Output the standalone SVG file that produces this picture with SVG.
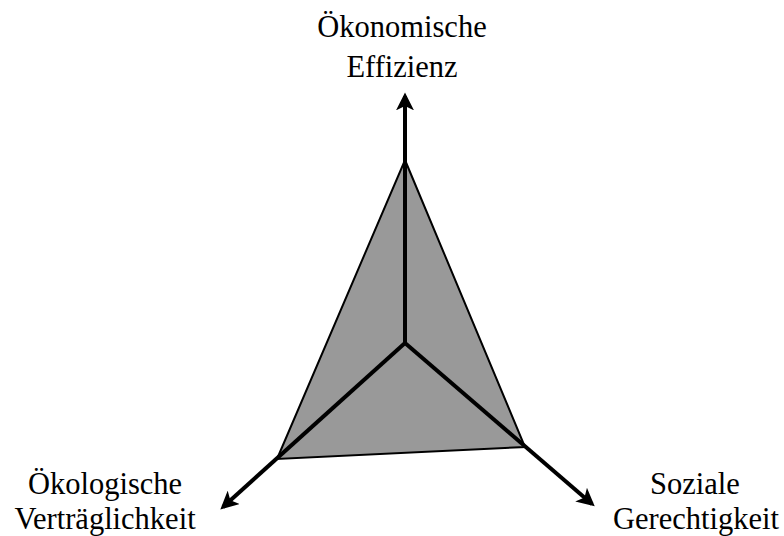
<svg xmlns="http://www.w3.org/2000/svg" width="784" height="536" viewBox="0 0 784 536">
  <style>
    .lbl { font-family: "Liberation Serif", "Times New Roman", serif; font-size: 30.5px; fill: #000; text-anchor: middle; }
    .axis { stroke: #000; stroke-width: 4; fill: none; marker-end: url(#head); }
    .area { fill: #999999; stroke: #000; stroke-width: 2; stroke-linejoin: miter; }
  </style>
  <defs>
    <marker id="head" viewBox="0 0 10 10" refX="8" refY="5" markerWidth="4.5" markerHeight="4.5" orient="auto" markerUnits="strokeWidth">
      <path d="M0,0 L10,5 L0,10 L2.5,5 Z" fill="#000"/>
    </marker>
  </defs>
  <rect width="784" height="536" fill="#fff"/>

  <g id="area">
    <polygon class="area" points="405,160 525,447 277,459"/>
  </g>

  <g id="connectors">
    <line class="axis" x1="405" y1="343" x2="405" y2="96"/>
    <line class="axis" x1="405" y1="343" x2="223" y2="507"/>
    <line class="axis" x1="405" y1="343" x2="592" y2="504"/>
  </g>

  <g id="oekonomie">
    <text class="lbl" x="402" y="37">Ökonomische</text>
    <text class="lbl" x="402" y="77">Effizienz</text>
  </g>
  <g id="oekologie">
    <text class="lbl" x="105" y="494">Ökologische</text>
    <text class="lbl" x="105" y="529">Verträglichkeit</text>
  </g>
  <g id="soziales">
    <text class="lbl" x="695" y="494">Soziale</text>
    <text class="lbl" x="696" y="529">Gerechtigkeit</text>
  </g>
</svg>
